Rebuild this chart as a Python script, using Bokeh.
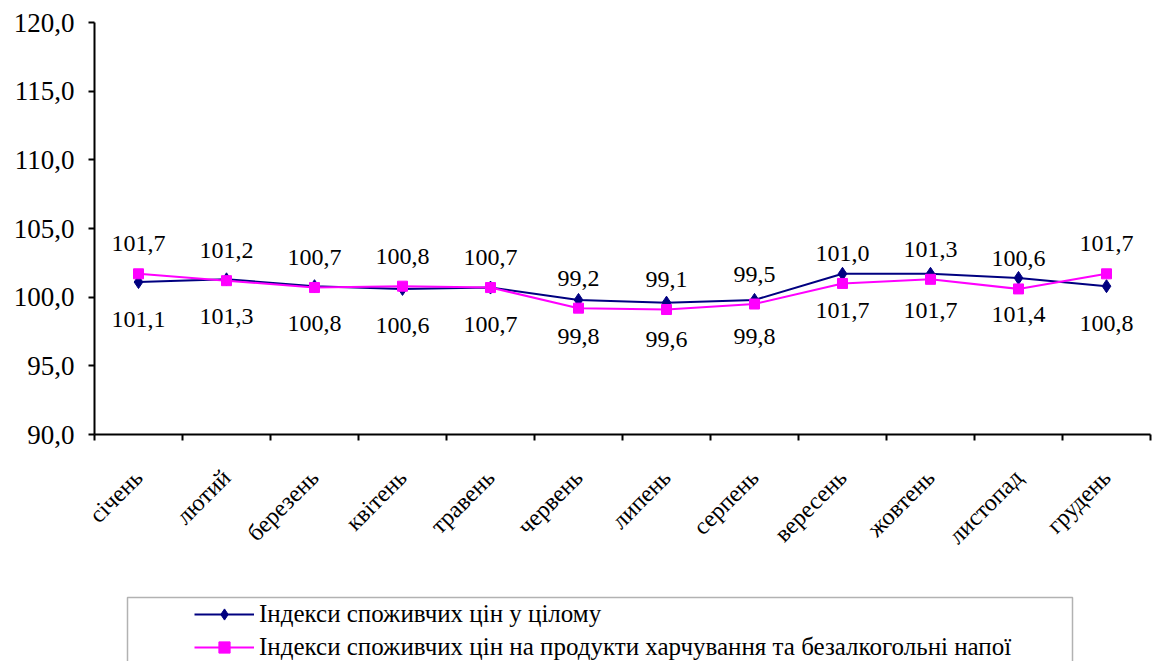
import numpy as np
from bokeh.plotting import figure
from bokeh.layouts import column
from bokeh.models import (FixedTicker, LinearAxis, Range1d, ColumnDataSource, Legend, LegendItem,
                          BoxAnnotation)
from bokeh.core.properties import value
from bokeh.embed import file_html
from bokeh.resources import INLINE

months = ["січень", "лютий", "березень", "квітень", "травень", "червень",
          "липень", "серпень", "вересень", "жовтень", "листопад", "грудень"]
cpi_total = [101.1, 101.3, 100.8, 100.6, 100.7, 99.8, 99.6, 99.8, 101.7, 101.7, 101.4, 100.8]
cpi_food = [101.7, 101.2, 100.7, 100.8, 100.7, 99.2, 99.1, 99.5, 101.0, 101.3, 100.6, 101.7]
y_ticks = [90, 95, 100, 105, 110, 115, 120]
series_names = ["Індекси споживчих цін у цілому",
                "Індекси споживчих цін на продукти харчування та безалкогольні напої"]

FONT = "Liberation Serif"
NAVY = "#000080"
MAGENTA = "#FF00FF"

x = np.arange(len(months)) + 0.5
fmt = lambda v: f"{v:.1f}".replace(".", ",")

src = ColumnDataSource(dict(
    x=x, total=cpi_total, food=cpi_food,
    total_lbl=[fmt(v) for v in cpi_total],
    food_lbl=[fmt(v) for v in cpi_food],
))

BL, BR = 94, 3

p = figure(width=1153, height=590, output_backend="svg", toolbar_location=None,
           x_range=Range1d(0, len(months)), y_range=Range1d(90, 120),
           x_axis_location=None, y_axis_location=None,
           min_border_left=BL, min_border_right=BR, min_border_top=22, min_border_bottom=156)
p.grid.visible = False
p.outline_line_color = None

# y axis
ya = LinearAxis(ticker=FixedTicker(ticks=y_ticks))
ya.major_label_overrides = {t: fmt(t) for t in y_ticks}
ya.major_label_text_font = FONT
ya.major_label_text_font_size = "27px"
ya.major_label_text_color = "black"
ya.major_tick_in = 0
ya.major_tick_out = 6
ya.minor_tick_line_color = None
ya.axis_line_width = 2
ya.major_tick_line_width = 2
ya.major_label_standoff = 14
p.add_layout(ya, "left")

# x axis
xa = LinearAxis(ticker=FixedTicker(ticks=list(x), minor_ticks=list(range(len(months) + 1))))
xa.major_label_overrides = {float(xx): m for xx, m in zip(x, months)}
xa.major_label_orientation = np.pi / 4
xa.major_label_text_font = FONT
xa.major_label_text_font_size = "24px"
xa.major_label_text_color = "black"
xa.major_tick_line_color = None
xa.minor_tick_in = 0
xa.minor_tick_out = 6
xa.minor_tick_line_width = 2
xa.axis_line_width = 2
xa.major_label_standoff = 33
p.add_layout(xa, "below")

p.line("x", "total", source=src, line_color=NAVY, line_width=2)
p.scatter("x", "total", source=src, marker="diamond", size=13, fill_color=NAVY, line_color=NAVY)
p.line("x", "food", source=src, line_color=MAGENTA, line_width=2)
p.scatter("x", "food", source=src, marker="square", size=10, fill_color=MAGENTA, line_color=MAGENTA)

p.text("x", "total", text="total_lbl", source=src, y_offset=37, text_align="center",
       text_baseline="middle", text_font=value(FONT), text_font_size="24px", text_color="black")
p.text("x", "food", text="food_lbl", source=src, y_offset=-30, text_align="center",
       text_baseline="middle", text_font=value(FONT), text_font_size="24px", text_color="black")

# legend panel (box below the chart); ranges in pixel units of this panel's frame
LH = 67
lg = figure(width=1153, height=71, output_backend="svg", toolbar_location=None,
            x_range=Range1d(0, 1153 - BL - BR), y_range=Range1d(0, LH),
            x_axis_location=None, y_axis_location=None,
            min_border_left=BL, min_border_right=BR, min_border_top=71 - LH, min_border_bottom=0)
lg.grid.visible = False
lg.outline_line_color = None
lg.add_layout(BoxAnnotation(left=33, right=978, top=LH - 3, bottom=-10,
                            fill_color=None, line_color="black", line_width=1.5))
dummy = ColumnDataSource(dict(x=[np.nan], y=[np.nan]))
d1 = lg.line("x", "y", source=dummy, line_color=NAVY, line_width=2)
d1s = lg.scatter("x", "y", source=dummy, marker="diamond", size=13, fill_color=NAVY, line_color=NAVY)
d2 = lg.line("x", "y", source=dummy, line_color=MAGENTA, line_width=2)
d2s = lg.scatter("x", "y", source=dummy, marker="square", size=10, fill_color=MAGENTA, line_color=MAGENTA)

legend = Legend(items=[LegendItem(label=series_names[0], renderers=[d1, d1s]),
                       LegendItem(label=series_names[1], renderers=[d2, d2s])],
                location=(100, 0), border_line_color=None, background_fill_alpha=0,
                label_text_font=FONT, label_text_font_size="25px", label_text_color="black",
                glyph_width=60, glyph_height=28, label_height=28, spacing=5,
                label_standoff=5, padding=3, margin=0)
lg.add_layout(legend, "center")

open("out.html", "w").write(file_html(column(p, lg, spacing=0), INLINE))
